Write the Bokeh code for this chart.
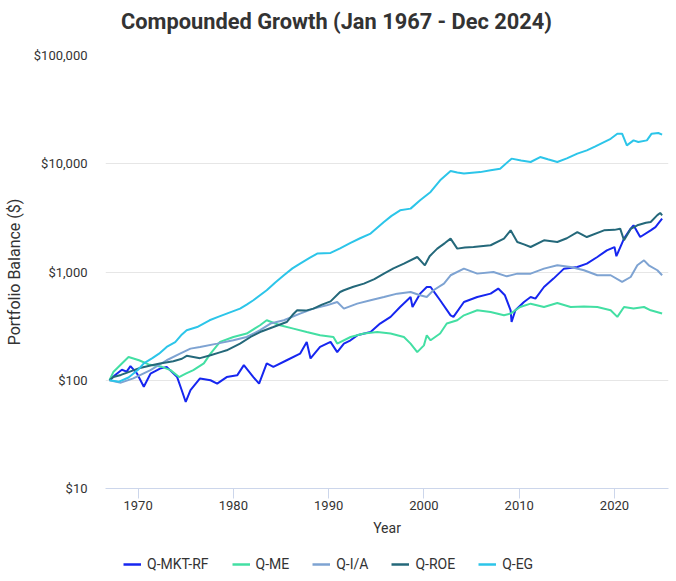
from bokeh.plotting import figure
from bokeh.models import FixedTicker, NumeralTickFormatter, Legend, LegendItem, Range1d, Label
from bokeh.layouts import column
from bokeh.embed import file_html
from bokeh.resources import INLINE

# ---------------- data ----------------
chart_title = "Compounded Growth (Jan 1967 - Dec 2024)"
series_names = ["Q-MKT-RF", "Q-ME", "Q-I/A", "Q-ROE", "Q-EG"]
series_colors = ["#1626f0", "#43dfa3", "#7ea3d2", "#24687a", "#2cc5e9"]

mkt_x = [1967.0, 1967.6, 1968.3, 1968.8, 1969.2, 1969.9, 1970.6, 1971.3, 1972.3, 1973.0,
         1974.1, 1974.6, 1975.0, 1975.5, 1976.5, 1977.6, 1978.3, 1979.3, 1980.4, 1981.1,
         1982.1, 1982.7, 1983.5, 1984.2, 1985.6, 1987.0, 1987.7, 1988.1, 1989.1, 1990.2,
         1990.9, 1991.6, 1992.3, 1993.0, 1994.4, 1995.4, 1996.5, 1997.5, 1998.6, 1998.8,
         1999.6, 2000.3, 2000.7, 2001.2, 2001.7, 2002.8, 2003.1, 2004.2, 2005.6, 2007.0,
         2007.8, 2008.5, 2009.1, 2009.2, 2009.6, 2010.5, 2011.2, 2011.7, 2012.6, 2013.6,
         2014.7, 2016.1, 2017.1, 2018.2, 2019.2, 2020.0, 2020.2, 2021.0, 2021.7, 2022.0,
         2022.7, 2023.8, 2024.3, 2025.0]
mkt_y = [100, 112, 125, 120, 135, 115, 87, 115, 128, 133,
         107, 80, 63, 81, 104, 100, 93, 107, 111, 138,
         107, 93, 143, 133, 153, 176, 226, 159, 203, 226,
         182, 218, 234, 260, 279, 334, 385, 475, 587, 475,
         631, 727, 727, 631, 548, 398, 385, 528, 587, 631,
         703, 609, 443, 345, 443, 528, 587, 568, 727, 869,
         1074, 1112, 1194, 1376, 1585, 1700, 1400, 2033, 2513, 2700,
         2104, 2427, 2600, 3111]

me_x = [1967.0, 1967.4, 1968.3, 1969.0, 1970.1, 1971.1, 1972.5, 1973.4, 1974.3, 1975.0,
        1975.8, 1976.9, 1977.6, 1978.6, 1980.0, 1981.4, 1982.8, 1983.5, 1984.9, 1986.3,
        1987.7, 1989.1, 1990.5, 1990.9, 1992.3, 1993.7, 1995.1, 1996.5, 1997.9, 1998.6,
        1999.3, 2000.0, 2000.3, 2000.7, 2001.7, 2002.4, 2003.5, 2004.2, 2005.6, 2007.0,
        2008.4, 2009.1, 2010.1, 2011.2, 2012.6, 2014.0, 2015.4, 2016.8, 2018.2, 2019.6,
        2020.3, 2021.0, 2022.0, 2023.1, 2023.8, 2025.0]
me_y = [100, 119, 143, 164, 153, 140, 133, 124, 107, 115,
        124, 143, 176, 226, 251, 270, 322, 358, 322, 300,
        279, 260, 251, 218, 251, 270, 279, 270, 251, 218,
        182, 210, 260, 234, 270, 334, 358, 398, 443, 427,
        398, 413, 475, 510, 475, 518, 475, 480, 475, 443,
        385, 475, 459, 475, 443, 413]

ia_x = [1967.0, 1968.2, 1969.5, 1971.3, 1973.0, 1974.4, 1975.5, 1976.5, 1978.3, 1980.0,
        1981.4, 1982.8, 1983.9, 1985.3, 1987.0, 1988.4, 1989.8, 1990.9, 1991.6, 1993.0,
        1994.4, 1995.8, 1997.2, 1998.6, 1999.6, 2000.3, 2001.0, 2002.1, 2002.8, 2004.2,
        2005.6, 2007.3, 2008.7, 2009.8, 2011.2, 2012.6, 2014.0, 2015.4, 2016.8, 2018.2,
        2019.6, 2020.8, 2021.7, 2022.4, 2023.1, 2023.6, 2024.5, 2025.0]
ia_y = [100, 95, 104, 124, 153, 176, 196, 203, 218, 234,
        251, 290, 334, 358, 413, 459, 492, 528, 459, 510,
        548, 587, 631, 654, 609, 587, 678, 781, 933, 1074,
        966, 1000, 912, 966, 966, 1074, 1153, 1112, 1038, 933,
        933, 809, 899, 1153, 1282, 1153, 1038, 933]

roe_x = [1967.0, 1967.4, 1968.2, 1969.0, 1970.2, 1971.3, 1972.3, 1973.7, 1974.6, 1975.1,
         1976.5, 1977.6, 1978.5, 1979.3, 1980.7, 1981.8, 1982.8, 1984.2, 1985.6, 1986.2,
         1986.7, 1987.6, 1988.4, 1989.3, 1990.2, 1991.2, 1991.6, 1992.6, 1993.7, 1994.8,
         1995.8, 1996.8, 1997.9, 1999.3, 2000.1, 2000.6, 2001.4, 2002.2, 2002.8, 2003.5,
         2004.3, 2005.2, 2007.0, 2008.4, 2009.1, 2009.8, 2010.5, 2011.2, 2012.6, 2014.0,
         2015.0, 2016.1, 2017.1, 2018.9, 2020.0, 2020.6, 2021.0, 2021.7, 2022.4, 2023.3,
         2023.8, 2024.5, 2024.8, 2025.0]
roe_y = [100, 107, 112, 119, 130, 137, 143, 150, 158, 168,
         160, 170, 180, 189, 218, 251, 279, 310, 345, 400,
         443, 440, 459, 500, 535, 654, 678, 730, 781, 860,
         966, 1080, 1194, 1376, 1153, 1400, 1644, 1850, 2033, 1644,
         1680, 1702, 1766, 2033, 2427, 1892, 1800, 1702, 1963, 1892,
         2050, 2340, 2104, 2427, 2450, 2513, 1963, 2500, 2700, 2850,
         2900, 3350, 3510, 3335]

eg_x = [1967.0, 1968.0, 1969.0, 1970.0, 1970.6, 1971.5, 1972.2, 1973.0, 1973.9, 1974.6,
        1975.1, 1976.2, 1977.5, 1978.4, 1979.3, 1980.7, 1981.4, 1982.1, 1983.5, 1984.4,
        1985.3, 1986.2, 1987.0, 1988.0, 1988.8, 1990.2, 1991.2, 1992.3, 1993.3, 1994.4,
        1995.8, 1996.6, 1997.5, 1998.6, 1999.6, 2000.7, 2001.7, 2002.8, 2003.5, 2004.2,
        2005.9, 2007.0, 2008.0, 2009.2, 2010.2, 2011.2, 2012.2, 2013.0, 2014.0, 2015.0,
        2016.1, 2017.1, 2018.0, 2018.9, 2019.6, 2020.3, 2020.8, 2021.3, 2022.0, 2022.5,
        2023.4, 2023.9, 2024.6, 2025.0]
eg_y = [100, 97, 106, 125, 143, 160, 176, 203, 225, 265,
        290, 310, 358, 385, 413, 459, 500, 548, 678, 800,
        933, 1080, 1197, 1350, 1480, 1500, 1650, 1860, 2050, 2264,
        2900, 3300, 3715, 3850, 4600, 5490, 7030, 8570, 8300, 8110,
        8370, 8700, 9010, 11150, 10700, 10380, 11540, 11000, 10380, 11200,
        12390, 13300, 14500, 15860, 17000, 18950, 18950, 14790, 16440, 15860,
        16440, 18950, 19230, 18580]

x_ticks = [1970, 1980, 1990, 2000, 2010, 2020]
y_ticks = [10, 100, 1000, 10000, 100000]

xs = [mkt_x, me_x, ia_x, roe_x, eg_x]
ys = [mkt_y, me_y, ia_y, roe_y, eg_y]

FONT = "Roboto"


def strip(height):
    f = figure(width=676, height=height, output_backend="svg", toolbar_location=None,
               x_axis_location=None, y_axis_location=None,
               x_range=Range1d(0, 1), y_range=Range1d(0, 1),
               min_border_left=0, min_border_right=0, min_border_top=0, min_border_bottom=0)
    f.outline_line_color = None
    f.xgrid.visible = False
    f.ygrid.visible = False
    f.border_fill_color = "white"
    f.background_fill_color = "white"
    return f


# ---------------- title strip ----------------
tt = strip(42)
tt.add_layout(Label(x=231, y=21, x_units="screen", y_units="screen", text=chart_title,
                    text_font=FONT, text_font_size="21.8px", text_font_style="bold",
                    text_color="#333333", text_align="center", text_baseline="middle"))

# ---------------- main figure ----------------
p = figure(width=676, height=500, output_backend="svg", toolbar_location=None,
           y_axis_type="log",
           x_range=Range1d(1966.58, 2025.67), y_range=Range1d(10, 100000),
           min_border_left=105, min_border_right=8, min_border_top=13, min_border_bottom=54)
p.title = None
p.outline_line_color = None
p.background_fill_color = "white"
p.border_fill_color = "white"

# x axis
xa = p.xaxis[0]
xa.ticker = FixedTicker(ticks=x_ticks)
xa.axis_line_color = "#ccd6eb"
xa.major_tick_line_color = "#ccd6eb"
xa.major_tick_out = 10
xa.major_tick_in = 0
xa.minor_tick_line_color = None
xa.major_label_standoff = 2
xa.major_label_text_font = FONT
xa.major_label_text_font_size = "13px"
xa.major_label_text_color = "#333333"
xa.axis_label = "Year"
xa.axis_label_text_font = FONT
xa.axis_label_text_font_size = "14px"
xa.axis_label_text_font_style = "normal"
xa.axis_label_text_color = "#333333"
xa.axis_label_standoff = 7

# y axis
ya = p.yaxis[0]
ya.ticker = FixedTicker(ticks=y_ticks)
ya.formatter = NumeralTickFormatter(format="$0,0")
ya.axis_line_color = None
ya.major_tick_line_color = None
ya.minor_tick_line_color = None
ya.major_tick_out = 0
ya.major_tick_in = 0
ya.major_label_standoff = 18
ya.major_label_text_font = FONT
ya.major_label_text_font_size = "13px"
ya.major_label_text_color = "#333333"
ya.axis_label = "Portfolio Balance ($)"
ya.axis_label_text_font = FONT
ya.axis_label_text_font_size = "16px"
ya.axis_label_text_font_style = "normal"
ya.axis_label_text_color = "#333333"
ya.axis_label_standoff = 7

p.xgrid.grid_line_color = None
p.ygrid.grid_line_color = "#e6e6e6"
p.ygrid.grid_line_width = 1
p.ygrid.minor_grid_line_color = None

for name, color, x, y in zip(series_names, series_colors, xs, ys):
    p.line(x, y, line_color=color, line_width=2)

# ---------------- legend strip ----------------
lg = strip(39)
items = []
for name, color, x, y in zip(series_names, series_colors, xs, ys):
    # same series drawn far outside this strip's (0..1) ranges, so only the legend shows
    r = lg.line(x, y, line_color=color, line_width=2.5)
    items.append(LegendItem(label=name, renderers=[r]))

legend = Legend(items=items, orientation="horizontal", location=(18, 9),
                label_text_font=FONT, label_text_font_size="14px", label_text_color="#333333",
                glyph_width=18, glyph_height=16, label_height=16, label_standoff=6,
                spacing=23, padding=0, margin=0,
                background_fill_alpha=0, border_line_color=None)
lg.add_layout(legend, "center")

layout = column(tt, p, lg, spacing=0)
open("out.html", "w").write(file_html(layout, INLINE))
